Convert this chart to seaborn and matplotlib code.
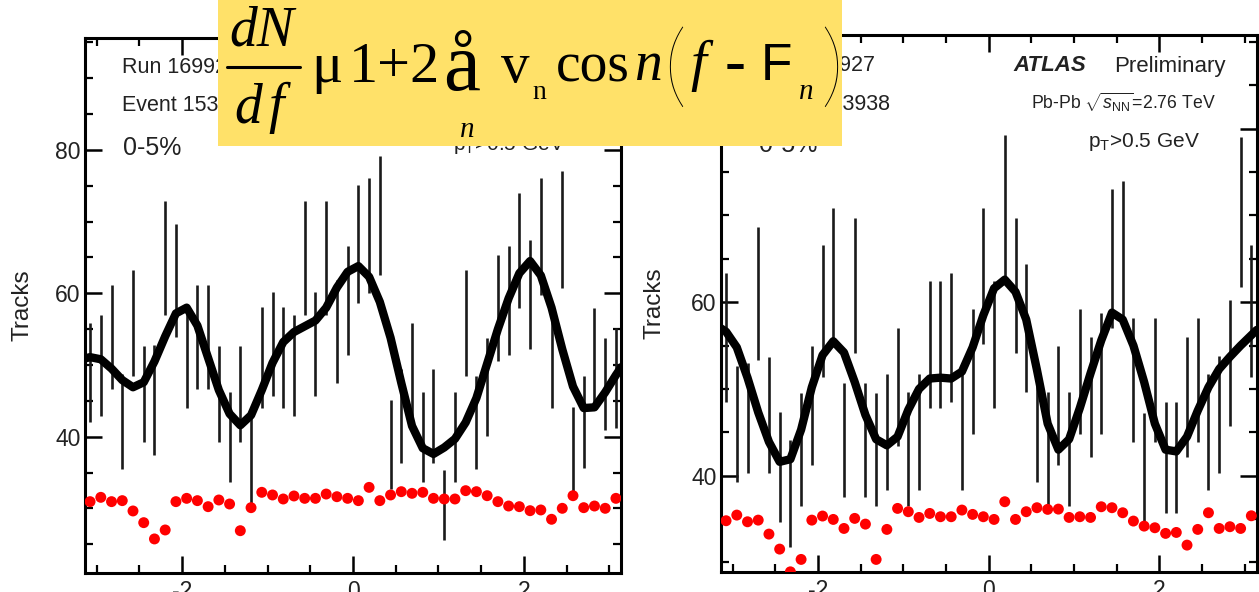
import numpy as np
import pandas as pd
import matplotlib
matplotlib.use("Agg")
import matplotlib.pyplot as plt
import seaborn as sns
from matplotlib.patches import Rectangle
from matplotlib.lines import Line2D
from matplotlib.ticker import MultipleLocator

sns.set_theme(style="ticks")
plt.rcParams['font.family'] = ['Liberation Sans', 'DejaVu Sans']
plt.rcParams['mathtext.fontset'] = 'custom'
plt.rcParams['mathtext.rm'] = 'Liberation Sans'
plt.rcParams['mathtext.it'] = 'Liberation Sans:italic'

# ---------------- data ----------------
N_BINS = 50
bin_phi = [-np.pi + (i + 0.5) * 2 * np.pi / N_BINS for i in range(N_BINS)]
curve_phi = [-np.pi] + bin_phi + [np.pi]

left_hi = [55.9, 57.0, 61.1, 48.8, 63.3, 52.6, 52.8, 72.9, 69.7, 57.9,
           61.1, 61.1, 52.6, 46.2, 52.6, 43.7, 58.1, 60.2, 58.1, 57.0,
           72.9, 60.2, 72.9, 61.8, 66.6, 75.1, 76.1, 79.2, 45.1, 49.5,
           55.9, 46.2, 49.5, 35.4, 46.2, 63.3, 48.5, 53.7, 65.4, 66.6,
           74.0, 67.5, 76.1, 57.9, 77.1, 44.2, 48.4, 58.0, 53.7, 55.1]
left_lo = [42.0, 42.9, 46.7, 35.5, 48.5, 39.2, 37.5, 57.0, 53.9, 44.0,
           46.7, 46.6, 39.2, 33.7, 39.2, 30.7, 44.0, 45.7, 44.0, 42.9,
           57.0, 45.7, 57.0, 47.5, 51.4, 58.7, 60.0, 62.5, 32.7, 36.4,
           41.9, 33.7, 36.4, 25.6, 33.7, 48.5, 35.5, 40.1, 50.5, 51.4,
           57.9, 52.2, 59.7, 44.0, 60.8, 31.9, 35.6, 44.2, 41.0, 41.2]
left_red = [30.95, 31.55, 30.95, 31.09, 29.65, 28.02, 25.75, 27.0, 30.95, 31.41,
            31.09, 30.25, 31.18, 30.62, 26.9, 30.11, 32.25, 31.88, 31.32, 31.74,
            31.41, 31.41, 32.01, 31.64, 31.41, 31.09, 32.94, 31.09, 31.88, 32.34,
            32.11, 32.25, 31.41, 31.32, 31.32, 32.48, 32.34, 31.78, 30.95, 30.34,
            30.25, 29.69, 29.79, 28.49, 30.02, 31.78, 30.11, 30.34, 30.02, 31.41]
left_curve = [50.9,
              51.1, 50.8, 49.5, 47.9, 46.9, 47.6, 50.5, 54.0, 57.2, 58.0,
              55.5, 51.0, 46.5, 43.2, 41.6, 43.0, 46.5, 50.3, 53.2, 54.6,
              55.4, 56.2, 58.0, 60.8, 63.0, 63.8, 62.3, 58.8, 53.8, 47.5,
              41.5, 38.4, 37.6, 38.5, 39.7, 42.0, 45.4, 50.2, 55.0, 59.3,
              62.8, 64.5, 62.5, 58.0, 52.2, 47.0, 44.0, 44.1, 46.2, 48.6,
              49.7]

right_hi = [63.4, 52.7, 53.0, 68.7, 53.7, 47.4, 44.1, 49.5, 54.9, 66.6,
            70.9, 50.7, 69.7, 50.7, 49.5, 51.7, 57.0, 49.6, 51.7, 62.4,
            62.4, 63.4, 52.2, 59.2, 70.9, 62.4, 79.3, 69.7, 64.4, 53.0,
            49.6, 54.9, 49.6, 59.2, 56.0, 58.7, 73.0, 74.0, 58.2, 47.2,
            58.2, 48.5, 48.5, 56.0, 58.2, 51.7, 53.8, 60.3, 79.1, 66.6]
right_lo = [48.5, 39.3, 40.3, 53.3, 40.3, 34.7, 31.8, 36.5, 41.2, 51.4,
            55.7, 37.6, 54.2, 37.6, 36.5, 38.4, 43.4, 36.5, 38.4, 47.8,
            47.8, 48.5, 38.4, 44.8, 55.2, 47.8, 62.2, 54.2, 49.6, 39.3,
            36.5, 41.2, 36.5, 44.8, 42.2, 44.8, 57.0, 58.2, 43.9, 34.6,
            43.9, 35.7, 35.7, 42.2, 43.9, 38.4, 40.3, 45.7, 61.8, 51.4]
right_red = [34.81, 35.46, 34.69, 34.88, 33.27, 31.54, 28.92, 30.35, 34.88, 35.35,
             34.96, 33.92, 35.08, 34.42, 30.35, 33.81, 36.23, 35.85, 35.19, 35.65,
             35.27, 35.27, 36.04, 35.54, 35.27, 34.96, 37.0, 34.96, 35.85, 36.31,
             36.12, 36.15, 35.19, 35.27, 35.19, 36.42, 36.31, 35.73, 34.77, 34.19,
             34.0, 33.35, 33.46, 32.0, 33.81, 35.73, 33.92, 34.12, 33.92, 35.38]
right_curve = [57.0,
               56.6, 54.8, 51.3, 47.3, 43.9, 41.6, 41.9, 45.3, 50.2, 53.9,
               55.5, 54.2, 50.8, 47.0, 44.2, 43.5, 44.5, 47.6, 50.0, 51.2,
               51.3, 51.2, 52.0, 54.8, 58.5, 61.6, 62.6, 61.2, 58.0, 52.2,
               46.0, 43.0, 44.2, 47.8, 51.8, 55.6, 58.8, 58.0, 55.0, 50.8,
               46.0, 43.0, 42.8, 44.5, 47.5, 50.2, 52.3, 53.7, 55.0, 56.2,
               56.8]

x_ticks = [-2, 0, 2]
x_tick_labels = ["-2", "0", "2"]
y_ticks = [40, 60, 80]
y_tick_labels = ["40", "60", "80"]

# ---------------- figure ----------------
W, H = 1259, 592
fig = plt.figure(figsize=(W / 100, H / 100), dpi=100)
fig.patch.set_facecolor("white")

def px_axes(x0, x1, ytop, ybot):
    return fig.add_axes([x0 / W, (H - ybot) / H, (x1 - x0) / W, (ybot - ytop) / H])

ax1 = px_axes(84.7, 621.3, 38, 573)
ax2 = px_axes(720.7, 1256.7, 35, 572)

TXT = "#222222"

def panel(ax, hi, lo, red, curve, ylim, lab_x):
    dfb = pd.DataFrame({"phi": bin_phi, "hi": hi, "lo": lo, "red": red})
    dfc = pd.DataFrame({"phi": curve_phi, "fit": curve})
    ax.vlines(dfb["phi"], dfb["lo"], dfb["hi"], color="#1a1a1a", lw=1.9, zorder=2)
    sns.lineplot(data=dfc, x="phi", y="fit", ax=ax, color="black", lw=6.0,
                 zorder=3, sort=False)
    sns.scatterplot(data=dfb, x="phi", y="red", ax=ax, color="#ff0000", s=62,
                    edgecolor="none", zorder=4)
    ax.set_xlim(-np.pi, np.pi)
    ax.set_ylim(*ylim)
    ax.set_xticks(x_ticks)
    ax.set_xticklabels(x_tick_labels)
    ax.set_yticks(y_ticks)
    ax.set_yticklabels(y_tick_labels)
    ax.xaxis.set_minor_locator(MultipleLocator(0.5))
    ax.yaxis.set_minor_locator(MultipleLocator(5))
    ax.tick_params(which="both", direction="in", top=True, right=True,
                   color="black", labelcolor=TXT, labelsize=16.5)
    ax.tick_params(which="major", length=12, width=1.8)
    ax.tick_params(which="minor", length=6, width=1.6)
    ax.tick_params(axis="y", pad=3)
    ax.tick_params(axis="x", pad=5)
    for s in ax.spines.values():
        s.set_linewidth(2.2)
        s.set_color("black")
        s.set_visible(True)
    ax.set_xlabel("")
    ax.set_ylabel("Tracks", fontsize=17.5, color=TXT)
    ax.yaxis.set_label_coords(lab_x, 0.5)
    ax.set_facecolor("white")

panel(ax1, left_hi, left_lo, left_red, left_curve, (21.0, 95.6), -0.095)
panel(ax2, right_hi, right_lo, right_red, right_curve, (28.9, 90.8), -0.103)

def ftext(x, y, s, **kw):
    kw.setdefault("ha", "left")
    kw.setdefault("va", "baseline")
    return fig.text(x / W, 1 - y / H, s, **kw)

# panel annotations (left)
ftext(122.5, 73, "Run 169927", fontsize=15.5, color=TXT, zorder=3)
ftext(122.5, 111, "Event 153938", fontsize=15.5, color=TXT, zorder=3)
ftext(122.5, 155, "0-5%", fontsize=18, color=TXT, zorder=3)
ftext(452.6, 150, r"p$_\mathrm{T}$>0.5 GeV", fontsize=15, color=TXT, zorder=3)

# panel annotations (right)
ftext(758.5, 71, "Run 169927", fontsize=15.5, color=TXT, zorder=3)
ftext(758.5, 110, "Event 153938", fontsize=15.5, color=TXT, zorder=3)
ftext(758.5, 152, "0-5%", fontsize=18, color=TXT, zorder=3)
ftext(1013, 71, "ATLAS", fontsize=16, color=TXT, zorder=3, fontweight="bold", fontstyle="italic")
ftext(1114, 71.7, "Preliminary", fontsize=16, color=TXT, zorder=3)
ftext(1031, 109, r"Pb-Pb $\sqrt{s_{\mathrm{NN}}}$=2.76 TeV", fontsize=12.7, color=TXT, zorder=3)
ftext(1088.5, 146.7, r"p$_\mathrm{T}$>0.5 GeV", fontsize=15, color=TXT, zorder=3)

# ---------------- yellow formula box ----------------
fig.patches.append(Rectangle((218 / W, 1 - 146 / H), 624 / W, 146 / H,
                             transform=fig.transFigure, facecolor="#FFE169",
                             edgecolor="none", zorder=10))
SERIF = ["Liberation Serif", "DejaVu Serif"]
SANS = ["Liberation Sans", "DejaVu Sans"]
THIN = ["Lato", "Liberation Serif", "DejaVu Sans"]
fk = dict(color="black", zorder=11, family=SERIF)
ftext(229, 45, "dN", fontsize=40, fontstyle="italic", **fk)
fig.lines.append(Line2D([227 / W, 300 / W], [1 - 67 / H, 1 - 67 / H],
                        transform=fig.transFigure, color="black", lw=2.2, zorder=11))
ftext(234, 122, "d", fontsize=40, fontstyle="italic", **fk)
ftext(268, 122, "f", fontsize=40, fontstyle="italic", **fk)
ftext(311, 82, "\u03bc", fontsize=42, **fk)
ftext(349, 82, "1+2", fontsize=42, **fk)
ftext(443, 90, "\u00e5", fontsize=60, **fk)
ftext(460, 137, "n", fontsize=21, fontstyle="italic", **fk)
ftext(501, 82, "v", fontsize=41, **fk)
ftext(532, 99, "n", fontsize=20, **fk)
ftext(556, 82, "cos", fontsize=40, **fk)
ftext(634, 80, "n", fontsize=40, fontstyle="italic", **fk)
ftext(663, 96, "(", fontsize=66, fontweight=200, color="black", zorder=11, family=THIN)
ftext(690, 80, "f", fontsize=41, fontstyle="italic", **fk)
ftext(725, 82, "-", fontsize=45, **fk)
ftext(761, 80, "F", fontsize=37, color="black", zorder=11, family=SANS)
ftext(799, 99, "n", fontsize=21, fontstyle="italic", **fk)
ftext(820, 96, ")", fontsize=66, fontweight=200, color="black", zorder=11, family=THIN)

fig.savefig("out.png", dpi=100, facecolor="white")
